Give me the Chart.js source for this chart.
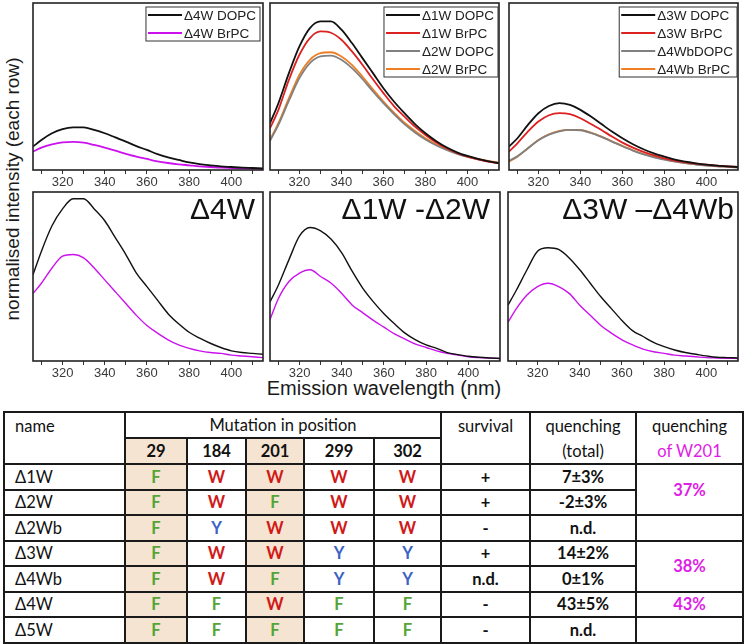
<!DOCTYPE html>
<html>
<head>
<meta charset="utf-8">
<script src="https://cdn.jsdelivr.net/npm/chart.js"></script>
<style>
  body { margin: 0; width: 744px; height: 644px; background: #fff; position: relative; overflow: hidden; }
  canvas { position: absolute; }
  .lbl { position: absolute; font-family: "Liberation Sans", Arial, sans-serif; color: #1a1a1a; white-space: nowrap; }
  #ylab { font-size: 19px; left: 13px; top: 189px; transform: translate(-50%, -50%) rotate(-90deg); }
  #xlab { font-size: 20px; left: 384px; top: 388px; transform: translate(-50%, -50%); }
  table { position: absolute; left: 3px; top: 411px; width: 739px; border-collapse: collapse; table-layout: fixed;
          font-family: Lato, "Open Sans", sans-serif; font-size: 16.5px; color: #111; }
  td { border: 2px solid #1a1a1a; height: 23.5px; padding: 0; text-align: center; vertical-align: middle; line-height: 20px; }
  td.nm { text-align: left; padding-left: 10px; }
  td.tan { background: #f5e4d1; }
  td.b { font-weight: bold; }
  td.top { vertical-align: top; padding-top: 1px; line-height: 24.5px; }
  .F { color: #55a436; font-weight: bold; }
  .W { color: #d01a1a; font-weight: bold; }
  .Y { color: #3b62c4; font-weight: bold; }
  .mag { color: #e01de6; }
</style>
</head>
<body>
<div class="lbl" id="ylab">normalised intensity (each row)</div>
<div class="lbl" id="xlab">Emission wavelength (nm)</div>
<table id="tbl"></table>

<script>
// wavelength grid (nm) the values were read at
const wavelength = [306,310,315,320,325,330,335,340,345,350,355,360,365,370,375,380,385,390,395,400,405,410,415];

// top row, normalised across the row
const top4wDopc = [.14,.18,.22,.245,.255,.255,.24,.22,.195,.17,.143,.12,.095,.075,.06,.045,.035,.028,.022,.018,.014,.012,.01];
const top4wBrpc = [.11,.134,.154,.166,.168,.164,.15,.134,.116,.096,.08,.066,.052,.042,.034,.028,.022,.018,.014,.012,.01,.008,.006];

const top1wDopc = [.28,.40,.58,.74,.85,.89,.89,.84,.76,.67,.58,.49,.41,.34,.275,.22,.174,.136,.106,.084,.066,.052,.04];
const top1wBrpc = [.25,.36,.54,.69,.79,.83,.822,.78,.71,.63,.543,.46,.383,.32,.26,.21,.166,.13,.102,.08,.064,.05,.04];
const top2wDopc = [.175,.27,.415,.55,.64,.68,.685,.66,.61,.545,.47,.40,.335,.275,.225,.183,.148,.12,.097,.079,.064,.052,.043];
const top2wBrpc = [.18,.28,.43,.57,.66,.70,.705,.68,.63,.56,.483,.41,.343,.283,.234,.19,.154,.124,.10,.082,.066,.054,.044];

const top3wDopc = [.14,.19,.27,.34,.383,.40,.39,.36,.32,.275,.23,.19,.154,.124,.10,.08,.062,.05,.04,.032,.026,.022,.018];
const top3wBrpc = [.11,.16,.23,.29,.328,.34,.334,.31,.275,.24,.20,.164,.134,.108,.088,.07,.056,.046,.038,.032,.026,.022,.018];
const top4wbDopc = [.055,.082,.13,.178,.212,.232,.24,.238,.222,.198,.17,.142,.116,.094,.076,.062,.05,.041,.033,.027,.022,.019,.015];
const top4wbBrpc = [.05,.08,.13,.18,.214,.234,.24,.24,.224,.20,.172,.144,.118,.096,.078,.064,.052,.042,.034,.028,.023,.02,.016];

// bottom row (black = DOPC, magenta = BrPC)
const bot4wDopc = [.51,.65,.80,.90,.96,.96,.90,.83,.73,.63,.52,.44,.36,.28,.22,.17,.135,.105,.08,.06,.05,.045,.04];
const bot4wBrpc = [.40,.46,.55,.62,.63,.61,.55,.48,.41,.34,.27,.21,.165,.125,.095,.075,.06,.05,.045,.035,.03,.025,.02];
const bot12Dopc = [.35,.45,.60,.74,.79,.77,.72,.64,.53,.43,.35,.28,.22,.165,.125,.095,.075,.05,.038,.028,.022,.018,.015];
const bot12Brpc = [.245,.37,.47,.52,.54,.50,.46,.40,.33,.285,.24,.20,.16,.13,.10,.08,.06,.045,.035,.025,.02,.017,.015];
const bot34Dopc = [.33,.42,.54,.65,.67,.66,.61,.54,.46,.38,.31,.24,.18,.145,.11,.085,.065,.05,.04,.03,.022,.02,.018];
const bot34Brpc = [.23,.31,.39,.44,.46,.44,.40,.33,.27,.21,.165,.125,.095,.07,.055,.045,.035,.03,.025,.02,.018,.016,.015];

const xTicks = [320, 340, 360, 380, 400];

// table stuff
const positions = ["29", "184", "201", "299", "302"];
const mutants = ["Δ1W", "Δ2W", "Δ2Wb", "Δ3W", "Δ4Wb", "Δ4W", "Δ5W"];
const residues = ["FWWWW", "FWFWW", "FYWWW", "FWWYY", "FWFYY", "FFWFF", "FFFFF"];
const survival = ["+", "+", "-", "+", "n.d.", "-", "-"];
const quenchTotal = ["7±3%", "-2±3%", "n.d.", "14±2%", "0±1%", "43±5%", "n.d."];
// [text, rowspan] for the W201 column
const quenchW201 = [["37%", 2], null, ["", 1], ["38%", 2], null, ["43%", 1], ["", 1]];

const BLACK = "#111", MAGENTA = "#cc11ee", RED = "#dd2020", GREY = "#808080", ORANGE = "#f07d22";

Chart.defaults.font.family = "'Liberation Sans', Arial, sans-serif";
Chart.defaults.color = "#333";

// box round the plot area
const framePlugin = {
  id: "frame",
  afterDraw(chart) {
    const a = chart.chartArea, c = chart.ctx;
    c.save();
    c.strokeStyle = "#222";
    c.lineWidth = 1.6;
    c.strokeRect(a.left, a.top, a.right - a.left, a.bottom - a.top);
    c.restore();
  }
};

// legend inside the top right corner like origin does it
const boxLegend = {
  id: "boxLegend",
  afterDraw(chart, args, opts) {
    if (!opts.show) return;
    const a = chart.chartArea, c = chart.ctx;
    const sets = chart.data.datasets;
    c.save();
    c.font = "13.5px 'Liberation Sans', Arial";
    let tw = 0;
    sets.forEach(d => { tw = Math.max(tw, c.measureText(d.label).width); });
    const w = 2 + 34 + 2 + tw + 4;
    const h = sets.length * 18 - 2;
    const x0 = a.right - opts.inset - w, y0 = a.top + 4;
    c.fillStyle = "#fff";
    c.fillRect(x0, y0, w, h);
    c.strokeStyle = "#333";
    c.lineWidth = 1;
    c.strokeRect(x0, y0, w, h);
    sets.forEach((d, i) => {
      const y = y0 + 8 + i * 18;
      c.strokeStyle = d.borderColor;
      c.lineWidth = 2;
      c.beginPath(); c.moveTo(x0 + 2, y); c.lineTo(x0 + 36, y); c.stroke();
      c.fillStyle = "#222";
      c.textBaseline = "middle";
      c.fillText(d.label, x0 + 38, y + 1);
    });
    c.restore();
  }
};

// big name in the bottom panels
const panelTitle = {
  id: "panelTitle",
  afterDraw(chart, args, opts) {
    if (!opts.text) return;
    const a = chart.chartArea, c = chart.ctx;
    c.save();
    c.font = "30px 'Liberation Sans', Arial";
    c.fillStyle = "#111";
    c.textAlign = "right";
    c.textBaseline = "alphabetic";
    c.fillText(opts.text, a.right - opts.inset, a.top + 27);
    c.restore();
  }
};

function makeSet(label, data, color, width) {
  return {
    label: label,
    data: data.map((v, i) => ({ x: wavelength[i], y: v })),
    borderColor: color,
    borderWidth: width,
    pointRadius: 0,
    cubicInterpolationMode: "monotone",
    fill: false
  };
}

// one canvas per panel, placed so the plot box lands where it should
function panel(id, left, top, w, h, sets, legendShow, legendInset, title, titleInset) {
  const cv = document.createElement("canvas");
  cv.id = id;
  cv.width = w + 8;
  cv.height = h + 24;
  cv.style.left = (left - 4) + "px";
  cv.style.top = (top - 2) + "px";
  document.body.appendChild(cv);

  new Chart(cv, {
    type: "line",
    data: { datasets: sets },
    options: {
      responsive: false,
      animation: false,
      layout: { padding: { left: 4, right: 4, top: 2, bottom: 2 } },
      scales: {
        x: {
          type: "linear",
          min: 306, max: 415,
          afterFit: s => { s.height = 20; },
          border: { display: false },
          grid: { drawOnChartArea: false, drawTicks: true, tickLength: 4, color: "#333", lineWidth: 1 },
          ticks: {
            stepSize: 10,
            includeBounds: false,
            autoSkip: false,
            maxRotation: 0,
            padding: 1,
            font: { size: 13 },
            color: "#3a3a3a",
            callback: v => (xTicks.includes(v) ? String(v) : "")
          }
        },
        y: { display: false, min: 0, max: 1 }
      },
      plugins: {
        legend: { display: false },
        tooltip: { enabled: false },
        boxLegend: { show: legendShow, inset: legendInset },
        panelTitle: { text: title, inset: titleInset }
      }
    },
    plugins: [framePlugin, boxLegend, panelTitle]
  });
}

// top row
panel("t1", 33, 3, 230, 167, [
  makeSet("Δ4W DOPC", top4wDopc, BLACK, 1.8),
  makeSet("Δ4W BrPC", top4wBrpc, MAGENTA, 1.8)
], true, 3, "", 0);

panel("t2", 270, 3, 229, 167, [
  makeSet("Δ1W DOPC", top1wDopc, BLACK, 1.8),
  makeSet("Δ1W BrPC", top1wBrpc, RED, 1.8),
  makeSet("Δ2W DOPC", top2wDopc, GREY, 1.8),
  makeSet("Δ2W BrPC", top2wBrpc, ORANGE, 1.8)
], true, 1, "", 0);

panel("t3", 509, 3, 229, 167, [
  makeSet("Δ3W DOPC", top3wDopc, BLACK, 1.8),
  makeSet("Δ3W BrPC", top3wBrpc, RED, 1.8),
  makeSet("Δ4WbDOPC", top4wbDopc, GREY, 1.8),
  makeSet("Δ4Wb BrPC", top4wbBrpc, ORANGE, 1.8)
], true, 1, "", 0);

// bottom row
panel("b1", 33, 192, 230, 169, [
  makeSet("Δ4W DOPC", bot4wDopc, BLACK, 1.4),
  makeSet("Δ4W BrPC", bot4wBrpc, MAGENTA, 1.4)
], false, 0, "Δ4W", 8);

panel("b2", 270, 192, 230, 169, [
  makeSet("DOPC", bot12Dopc, BLACK, 1.4),
  makeSet("BrPC", bot12Brpc, MAGENTA, 1.4)
], false, 0, "Δ1W -Δ2W", 10);

panel("b3", 508, 192, 230, 169, [
  makeSet("DOPC", bot34Dopc, BLACK, 1.4),
  makeSet("BrPC", bot34Brpc, MAGENTA, 1.4)
], false, 0, "Δ3W –Δ4Wb", 4);

// the table underneath
const colW = [121, 62, 59, 58, 70, 67, 89, 106, 107];
const tbl = document.getElementById("tbl");
let html = "<colgroup>" + colW.map(w => '<col style="width:' + w + 'px">').join("") + "</colgroup>";
html += '<tr><td class="nm top" rowspan="2">name</td><td colspan="5">Mutation in position</td>' +
        '<td class="top" rowspan="2">survival</td>' +
        '<td class="top" rowspan="2">quenching<br>(total)</td>' +
        '<td class="top" rowspan="2">quenching<br><span class="mag">of W201</span></td></tr>';
html += "<tr>" + positions.map((p, i) => '<td class="b' + (i === 0 || i === 2 ? " tan" : "") + '">' + p + "</td>").join("") + "</tr>";
mutants.forEach((m, r) => {
  html += '<tr><td class="nm">' + m + "</td>";
  for (let i = 0; i < 5; i++) {
    const aa = residues[r][i];
    html += "<td" + (i === 0 || i === 2 ? ' class="tan"' : "") + '><span class="' + aa + '">' + aa + "</span></td>";
  }
  html += '<td class="b">' + survival[r] + '</td><td class="b">' + quenchTotal[r] + "</td>";
  if (quenchW201[r]) {
    html += '<td class="b mag" rowspan="' + quenchW201[r][1] + '">' + quenchW201[r][0] + "</td>";
  }
  html += "</tr>";
});
tbl.innerHTML = html;
</script>
</body>
</html>
